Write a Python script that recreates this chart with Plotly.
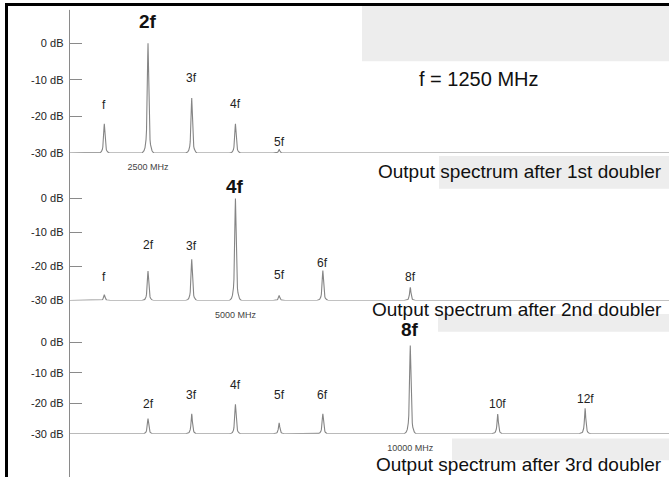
import numpy as np
import plotly.graph_objects as go

# ---------------- data ----------------
F0_MHZ = 1250
p1_harm = [1, 2, 3, 4, 5]
p1_db = [-22, 0, -15, -22, -29]
p1_labels = ["f", "2f", "3f", "4f", "5f"]

p2_harm = [1, 2, 3, 4, 5, 6, 8]
p2_db = [-28.3, -21.3, -17.9, 0, -28.5, -21.2, -26.1]
p2_labels = ["f", "2f", "3f", "4f", "5f", "6f", "8f"]

p3_harm = [2, 3, 4, 5, 6, 8, 10, 12]
p3_db = [-25, -23.4, -20.3, -26.4, -23.4, -1, -23.5, -21.6]
p3_labels = ["2f", "3f", "4f", "5f", "6f", "8f", "10f", "12f"]

y_ticks = [0, -10, -20, -30]
y_tick_text = ["0 dB", "-10 dB", "-20 dB", "-30 dB"]
freq_ticks = [2500, 5000, 10000]
freq_tick_text = ["2500 MHz", "5000 MHz", "10000 MHz"]
panel_titles = ["Output spectrum after 1st doubler",
                "Output spectrum after 2nd doubler",
                "Output spectrum after 3rd doubler"]
f_note = "f = 1250 MHz"

# ---------------- layout constants ----------------
W, H = 669, 483
K = 0.034968          # px per MHz
X0 = 60.6             # px of 0 MHz
AXIS_PX = 69.5
FONT = "Liberation Sans, Arial, sans-serif"
LINE_COL = "#858585"

x_range = [(AXIS_PX - X0) / K, (W - X0) / K]
MHZ_PER_PX = 1 / K

def py(p):
    return 1 - p / H

# panel geometry: (bottom px of -30 dB, top px of domain, px of 0 dB)
panels = [(155.0, 10.0, 43.7), (304.3, 160.0, 201.0), (439.3, 310.0, 346.7)]

offs_px = np.array([-6, -5, -4, -3, -2.5, -2, -1.5, -1, -0.6, -0.3, 0,
                    0.3, 0.6, 1, 1.5, 2, 2.5, 3, 4, 5, 6])
w = 0.8
g = 1 / (1 + (offs_px / w) ** 2)
g6 = 1 / (1 + (6 / w) ** 2)
prof = np.clip((g - g6) / (1 - g6), 0, 1)

def spectrum(harm, db):
    xs = [x_range[0]]
    ys = [-30]
    for n, d in zip(harm, db):
        c = n * F0_MHZ
        xs += list(c + offs_px * MHZ_PER_PX)
        ys += list(-30 + (d + 30) * prof)
    xs.append(x_range[1])
    ys.append(-30)
    return xs, ys

fig = go.Figure()
data = [(p1_harm, p1_db), (p2_harm, p2_db), (p3_harm, p3_db)]
for i, (h, d) in enumerate(data):
    xs, ys = spectrum(h, d)
    sfx = "" if i == 0 else str(i + 1)
    fig.add_trace(go.Scatter(x=xs, y=ys, mode="lines",
                             line=dict(color=LINE_COL, width=1.1),
                             xaxis="x" + sfx, yaxis="y" + sfx,
                             hoverinfo="skip", showlegend=False))

layout = dict(width=W, height=H, margin=dict(l=0, r=0, t=0, b=0),
              paper_bgcolor="white", plot_bgcolor="rgba(0,0,0,0)",
              showlegend=False)

for i, (bot, top, zero) in enumerate(panels):
    sfx = "" if i == 0 else str(i + 1)
    pxdb = (bot - zero) / 30.0
    ytop = -30 + (bot - top) / pxdb
    layout["xaxis" + sfx] = dict(domain=[AXIS_PX / W, 1], range=x_range,
                                 anchor="y" + sfx, showgrid=False, zeroline=False,
                                 showline=False, ticks="",
                                 tickvals=[freq_ticks[i]], ticktext=[freq_tick_text[i]],
                                 tickfont=dict(family=FONT, size=9, color="#444"),
                                 ticklabelstandoff=7, fixedrange=True)
    layout["yaxis" + sfx] = dict(domain=[py(bot), py(top)], range=[-30, ytop],
                                 anchor="x" + sfx, showgrid=False, zeroline=False,
                                 showline=False, ticks="inside", ticklen=12,
                                 tickcolor="#8a8a8a", tickwidth=1,
                                 tickvals=y_ticks, ticktext=y_tick_text,
                                 tickfont=dict(family=FONT, size=11, color="#222"),
                                 ticklabelstandoff=5, fixedrange=True)

# shapes
shapes = []
gray = "#ededed"
for (x0, y0, x1, y1) in [(362, 6, 669, 62), (439, 158, 669, 191),
                         (438, 318, 669, 336), (452, 444, 669, 466)]:
    shapes.append(dict(type="rect", xref="paper", yref="paper",
                       x0=x0 / W, x1=x1 / W, y0=py(y1), y1=py(y0),
                       fillcolor=gray, line=dict(width=0), layer="below"))
shapes.append(dict(type="line", xref="paper", yref="paper",
                   x0=AXIS_PX / W, x1=AXIS_PX / W, y0=0, y1=py(10),
                   line=dict(color="#8a8a8a", width=1)))
# frame: left and top black borders
shapes.append(dict(type="rect", xref="paper", yref="paper",
                   x0=5 / W, x1=8 / W, y0=0, y1=py(3),
                   fillcolor="black", line=dict(width=0), layer="above"))
shapes.append(dict(type="rect", xref="paper", yref="paper",
                   x0=5 / W, x1=1, y0=py(6), y1=py(3),
                   fillcolor="black", line=dict(width=0), layer="above"))
layout["shapes"] = shapes

# annotations
label_shift = [[19, 22, 20, 20, 7],
               [18, 26, 13, 12, 20, 8, 10],
               [15, 19, 19, 28, 19, 16, 10, 9]]
bold_label = ["2f", "4f", "8f"]
labels_all = [p1_labels, p2_labels, p3_labels]
ann = []
for i, (h, d) in enumerate(data):
    sfx = "" if i == 0 else str(i + 1)
    for n, v, lab, s in zip(h, d, labels_all[i], label_shift[i]):
        big = lab == bold_label[i]
        ann.append(dict(x=n * F0_MHZ, y=v, xref="x" + sfx, yref="y" + sfx,
                        text=("<b>%s</b>" % lab) if big else lab,
                        showarrow=False, yanchor="middle", xanchor="center",
                        yshift=s,
                        font=dict(family=FONT, size=19 if big else 12,
                                  color="#111" if big else "#222")))
for t, yc in zip(panel_titles, [174, 313, 470]):
    ann.append(dict(x=664 / W, y=py(yc), xref="paper", yref="paper", text=t,
                    showarrow=False, xanchor="right", yanchor="middle",
                    font=dict(family=FONT, size=19, color="#111")))
ann.append(dict(x=479 / W, y=py(80), xref="paper", yref="paper", text=f_note,
                showarrow=False, xanchor="center", yanchor="middle",
                font=dict(family=FONT, size=20, color="#111")))
layout["annotations"] = ann

fig.update_layout(**layout)
fig.write_html("out.html", config={"displayModeBar": False},
               post_script="document.documentElement.style.margin='0';"
                           "document.documentElement.style.overflow='hidden';"
                           "document.body.style.margin='0';"
                           "document.body.style.padding='0';"
                           "document.body.style.overflow='hidden';"
                           "window.scrollTo(0,0);")
